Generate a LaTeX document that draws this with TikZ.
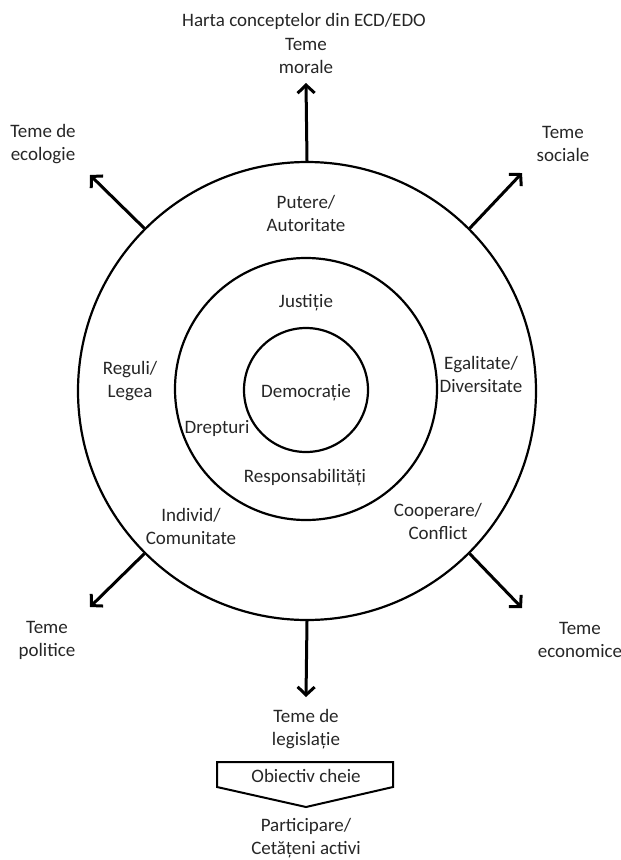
\documentclass[tikz,border=0pt]{standalone}
\usepackage{fontspec}
\setmainfont{Carlito}
\usetikzlibrary{arrows.meta, positioning}

\begin{document}
\begin{tikzpicture} [
	x=1pt, y=-1pt, % one unit is one pixel of the sketch, y grows downwards
	ring/.style={draw, circle, line width=2.2pt, inner sep=0pt}, % the three concept circles
	spoke/.style={line width=3pt, -{Straight Barb[length=8pt, width=17pt]}}, % arrows towards the themes
	lbl/.style={align=center, text=black!85, font=\fontsize{19}{23}\selectfont, inner sep=1pt}, % every text
	]
	\useasboundingbox (0,0) rectangle (621,860);

	% circles
	\node[ring, minimum size=458pt] (outer) at (307,391) {};
	\node[ring, minimum size=262pt] (middle) at (306,389) {};
	\node[ring, minimum size=124pt] (inner) at (306,390) {};

	% themes round the map
	\node[lbl] (title) at (304,21) {Harta conceptelor din ECD/EDO};
	\node[lbl] (moral) at (306,56) {Teme\\morale};
	\node[lbl] (ecol) at (43,144) {Teme de\\ecologie};
	\node[lbl] (social) at (563,144) {Teme\\sociale};
	\node[lbl] (polit) at (47,640) {Teme\\politice};
	\node[lbl] (econ) at (580,640) {Teme\\economice};
	\node[lbl] (legis) at (306,729) {Teme de\\legislație};

	% concepts inside the circles
	\node[lbl] (democ) at (306,393) {Democrație};
	\node[lbl] (just) at (306,303) {Justiție};
	\node[lbl] (drept) at (217,428) {Drepturi};
	\node[lbl] (resp) at (305,478) {Responsabilități};
	\node[lbl] (putere) at (306,213) {Putere/\\Autoritate};
	\node[lbl] (egal) at (481,374) {Egalitate/\\Diversitate};
	\node[lbl] (reguli) at (130,381) {Reguli/\\Legea};
	\node[lbl] (indiv) at (191,526) {Individ/\\Comunitate};
	\node[lbl] (coop) at (438,521) {Cooperare/\\Conflict};

	% arrow tips
	\coordinate (tipN) at (306,83);
	\coordinate (tipS) at (306,697);
	\coordinate (tipNW) at (90,175);
	\coordinate (tipNE) at (522,173);
	\coordinate (tipSW) at (90,607);
	\coordinate (tipSE) at (522,608);
	\draw[spoke] (outer.north) -- (tipN);
	\draw[spoke] (outer.south) -- (tipS);
	\draw[spoke] (outer.135) -- (tipNW);
	\draw[spoke] (outer.45) -- (tipNE);
	\draw[spoke] (outer.225) -- (tipSW);
	\draw[spoke] (outer.315) -- (tipSE);

	% key objective
	\node[lbl] (goal) at (306,776) {Obiectiv cheie};
	\draw[line width=2pt] (217,762) -- (393,762) -- (393,787) -- (306,807) -- (217,787) -- cycle;
	\node[lbl] (result) at (306,838) {Participare/\\Cetățeni activi};
\end{tikzpicture}
\end{document}
